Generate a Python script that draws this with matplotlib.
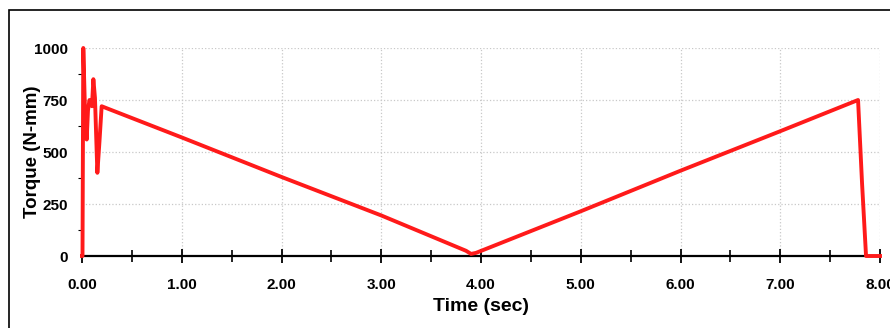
import matplotlib.pyplot as plt
from matplotlib.patches import Rectangle
from matplotlib.ticker import MultipleLocator, FormatStrFormatter

# torque trace: start-up oscillation, unloading ramp, reloading ramp, release
time_sec = [0.0, 0.005, 0.013, 0.03, 0.047, 0.06, 0.075, 0.09, 0.1, 0.114,
            0.13, 0.154, 0.175, 0.197, 0.25, 1.0, 2.0, 3.0, 3.85, 3.9,
            3.95, 5.0, 6.0, 7.0, 7.78, 7.82, 7.86, 8.0]
torque_nmm = [0, 0, 1000, 700, 560, 700, 750, 730, 720, 850,
              760, 400, 550, 720, 710, 570, 380, 195, 25, 10,
              15, 215, 410, 600, 750, 350, 0, 0]

plt.rcParams['font.family'] = ['Liberation Sans', 'DejaVu Sans']

fig = plt.figure(figsize=(8.9, 3.28), dpi=100)
fig.patches.append(Rectangle((9 / 890, -0.1), 1.0, 1 - 10 / 328 + 0.1,
                             transform=fig.transFigure, fill=False,
                             edgecolor='black', linewidth=1.2))

ax = fig.add_axes([82 / 890, 72 / 328, 798 / 890, 208 / 328])
ax.plot(time_sec, torque_nmm, color='#ff1a1a', linewidth=2.8, clip_on=False, zorder=3)

ax.set_xlim(0, 8)
ax.set_ylim(0, 1000)
ax.xaxis.set_major_locator(MultipleLocator(1))
ax.xaxis.set_minor_locator(MultipleLocator(0.5))
ax.yaxis.set_major_locator(MultipleLocator(250))
ax.yaxis.set_minor_locator(MultipleLocator(125))
ax.xaxis.set_major_formatter(FormatStrFormatter('%.2f'))

ax.grid(True, which='major', color='#c8c8c8', linestyle=':', linewidth=0.9)
for s in ['top', 'right']:
    ax.spines[s].set_visible(False)
ax.spines['bottom'].set_linewidth(1.6)
ax.spines['left'].set_linewidth(0.8)

ax.tick_params(axis='x', which='major', direction='inout', length=10, width=1.3,
               labelsize=11, pad=11)
ax.tick_params(axis='x', which='minor', direction='inout', length=8, width=1.2)
ax.tick_params(axis='y', which='major', direction='out', length=0, labelsize=11, pad=10)
ax.tick_params(axis='y', which='minor', direction='out', length=3, width=0.8)
for lbl in ax.get_xticklabels() + ax.get_yticklabels():
    lbl.set_fontweight('bold')

ax.set_xlabel('Time (sec)', fontsize=14, fontweight='bold')
ax.set_ylabel('Torque (N-mm)', fontsize=13.5, fontweight='bold')
ax.xaxis.set_label_coords(0.5, -0.2)
ax.yaxis.set_label_coords(-0.051, 0.5)

fig.savefig('out.png', dpi=100)
